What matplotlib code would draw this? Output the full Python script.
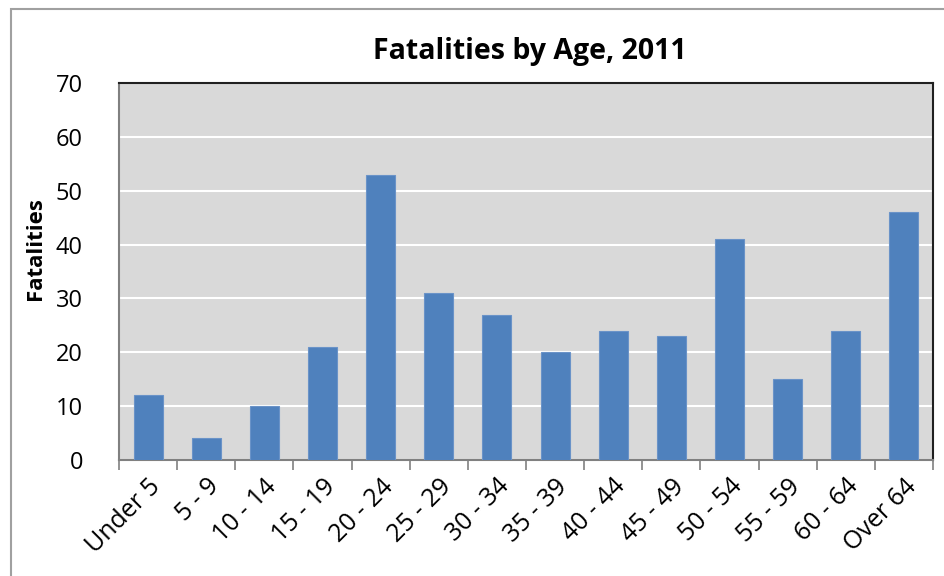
import matplotlib.pyplot as plt
import numpy as np

categories = ['Under 5', '5 - 9', '10 - 14', '15 - 19', '20 - 24', '25 - 29', '30 - 34',
              '35 - 39', '40 - 44', '45 - 49', '50 - 54', '55 - 59', '60 - 64', 'Over 64']
fatalities = [12, 4, 10, 21, 53, 31, 27, 20, 24, 23, 41, 15, 24, 46]
y_ticks = [0, 10, 20, 30, 40, 50, 60, 70]

plt.rcParams['font.family'] = ['Open Sans', 'DejaVu Sans']

fig = plt.figure(figsize=(9.45, 5.76), dpi=100)
# outer chart border
fig.patches.append(plt.Rectangle((11 / 945, -0.1), 1.0, 1.1 - 9 / 576, transform=fig.transFigure,
                                 facecolor='none', edgecolor='#a0a0a0', linewidth=1.5))

ax = fig.add_axes([119 / 945, 1 - 460 / 576, (933 - 119) / 945, (460 - 83) / 576])
ax.set_facecolor('#d9d9d9')

x = np.arange(len(categories))
ax.bar(x, fatalities, width=0.5, color='#4f81bd', edgecolor='#6a93c8', linewidth=0.8, zorder=3)

ax.set_xlim(-0.5, len(categories) - 0.5)
ax.set_ylim(0, 70)
ax.set_yticks(y_ticks)
ax.yaxis.grid(True, color='white', linewidth=1.5, zorder=0)
ax.set_axisbelow(True)

ax.set_xticks(x)
ax.set_xticklabels(categories, rotation=45, ha='right', rotation_mode='anchor', fontsize=18)
ax.tick_params(axis='x', length=0, pad=10)
ax.set_xticks(np.arange(-0.5, len(categories)), minor=True)
ax.tick_params(axis='x', which='minor', length=7, color='#808080', width=1.2)
ax.tick_params(axis='y', length=0, labelsize=17, pad=26)

for side in ['left', 'bottom']:
    ax.spines[side].set_color('#808080')
    ax.spines[side].set_linewidth(1.5)
for side in ['top', 'right']:
    ax.spines[side].set_color('#202020')
    ax.spines[side].set_linewidth(1.5)

ax.set_ylabel('Fatalities', fontsize=16, fontweight='bold')
ax.yaxis.set_label_coords(-0.09, 0.56)
fig.text(530 / 945, 1 - 51 / 576, 'Fatalities by Age, 2011', fontsize=20.5, fontweight='bold',
         ha='center', va='center')

fig.savefig('out.png', dpi=100)
